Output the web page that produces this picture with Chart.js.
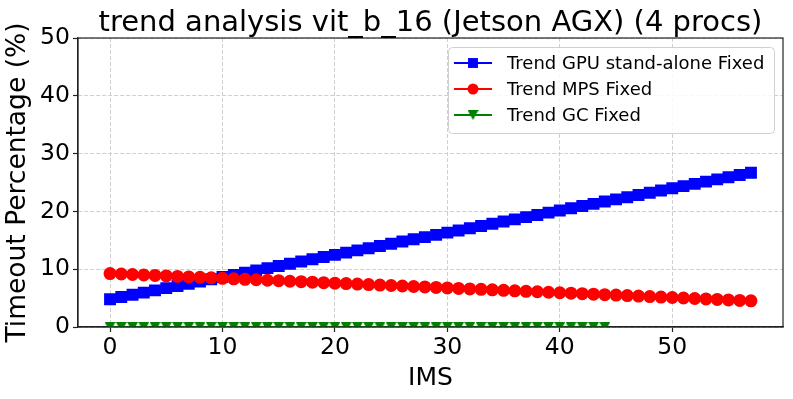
<!DOCTYPE html>
<html>
<head>
<meta charset="utf-8">
<script src="https://cdn.jsdelivr.net/npm/chart.js@4.4.1/dist/chart.umd.min.js"></script>
<style>
  html, body { margin: 0; padding: 0; background: #fff; }
  canvas { display: block; }
</style>
</head>
<body>
<canvas id="trendChart" width="793" height="399"></canvas>
<script>
// values, one per IMS step (0, 1, 2, ...)
const gpuStandAlone = [
  4.80, 5.18, 5.57, 5.95, 6.34, 6.72, 7.10, 7.49, 7.87, 8.26,
  8.64, 9.02, 9.41, 9.79, 10.18, 10.56, 10.94, 11.33, 11.71, 12.10,
  12.48, 12.86, 13.25, 13.63, 14.02, 14.40, 14.78, 15.17, 15.55, 15.94,
  16.32, 16.70, 17.09, 17.47, 17.86, 18.24, 18.62, 19.01, 19.39, 19.78,
  20.16, 20.54, 20.93, 21.31, 21.70, 22.08, 22.46, 22.85, 23.23, 23.62,
  24.00, 24.38, 24.77, 25.15, 25.54, 25.92, 26.30, 26.69
];
const mpsFixed = [
  9.25, 9.17, 9.08, 9.00, 8.92, 8.84, 8.75, 8.67, 8.59, 8.50,
  8.42, 8.34, 8.25, 8.17, 8.09, 8.01, 7.92, 7.84, 7.76, 7.67,
  7.59, 7.51, 7.42, 7.34, 7.26, 7.18, 7.09, 7.01, 6.93, 6.84,
  6.76, 6.68, 6.59, 6.51, 6.43, 6.35, 6.26, 6.18, 6.10, 6.01,
  5.93, 5.85, 5.76, 5.68, 5.60, 5.52, 5.43, 5.35, 5.27, 5.18,
  5.10, 5.02, 4.93, 4.85, 4.77, 4.69, 4.60, 4.52
];
const gcFixed = [
  0, 0, 0, 0, 0, 0, 0, 0, 0, 0,
  0, 0, 0, 0, 0, 0, 0, 0, 0, 0,
  0, 0, 0, 0, 0, 0, 0, 0, 0, 0,
  0, 0, 0, 0, 0, 0, 0, 0, 0, 0,
  0, 0, 0, 0, 0
];
const seriesNames = ['Trend GPU stand-alone Fixed', 'Trend MPS Fixed', 'Trend GC Fixed'];
const chartTitle = 'trend analysis vit_b_16 (Jetson AGX) (4 procs)';
const xTicks = [0, 10, 20, 30, 40, 50];
const yTicks = [0, 10, 20, 30, 40, 50];

const FONT = "'DejaVu Sans', sans-serif";

function toPoints(values) {
  return values.map((v, i) => ({ x: i, y: v }));
}

// matplotlib style 'v' marker (wider and taller than chart.js triangle)
const triDown = document.createElement('canvas');
triDown.width = 11;
triDown.height = 10;
(function () {
  const c = triDown.getContext('2d');
  c.fillStyle = '#008000';
  c.beginPath();
  c.moveTo(0, 0);
  c.lineTo(11, 0);
  c.lineTo(5.5, 10);
  c.closePath();
  c.fill();
})();

// title centred over the axes, plus top + right spines
const frameBox = {
  id: 'frameBox',
  afterDatasetsDraw(chart) {
    const { ctx, chartArea: a } = chart;
    ctx.save();
    ctx.strokeStyle = '#222';
    ctx.lineWidth = 1.2;
    ctx.strokeRect(a.left, a.top, a.right - a.left, a.bottom - a.top);
    ctx.fillStyle = '#000';
    ctx.font = '29px ' + FONT;
    ctx.textAlign = 'center';
    ctx.textBaseline = 'alphabetic';
    ctx.fillText(chartTitle, (a.left + a.right) / 2, a.top - 7);
    ctx.restore();
  }
};

function marker(ctx, style, x, y, r) {
  if (style instanceof HTMLCanvasElement) {
    ctx.drawImage(style, x - style.width / 2, y - style.height / 2);
    return;
  }
  ctx.beginPath();
  if (style === 'rect') {
    const s = r * Math.SQRT1_2;
    ctx.rect(x - s, y - s, 2 * s, 2 * s);
  } else {
    ctx.arc(x, y, r, 0, Math.PI * 2);
  }
  ctx.fill();
}

// legend box in upper right of the plot, like matplotlib
const boxLegend = {
  id: 'boxLegend',
  afterDraw(chart) {
    const { ctx, chartArea: a } = chart;
    const w = 326, h = 86;
    const x0 = a.right - 9 - w, y0 = a.top + 9;
    ctx.save();
    ctx.fillStyle = 'rgba(255,255,255,0.85)';
    ctx.strokeStyle = '#d0d0d0';
    ctx.lineWidth = 1;
    ctx.beginPath();
    ctx.roundRect(x0 + 0.5, y0 + 0.5, w, h, 4);
    ctx.fill();
    ctx.stroke();
    ctx.font = '18px ' + FONT;
    ctx.textBaseline = 'middle';
    chart.data.datasets.forEach((ds, i) => {
      const cy = y0 + 16 + i * 26;
      ctx.strokeStyle = ds.borderColor;
      ctx.fillStyle = ds.borderColor;
      ctx.lineWidth = 2;
      ctx.beginPath();
      ctx.moveTo(x0 + 6, cy);
      ctx.lineTo(x0 + 44, cy);
      ctx.stroke();
      marker(ctx, ds.pointStyle, x0 + 25, cy, ds.pointRadius);
      ctx.fillStyle = '#000';
      ctx.fillText(ds.label, x0 + 59, cy + 1);
    });
    ctx.restore();
  }
};

new Chart(document.getElementById('trendChart').getContext('2d'), {
  type: 'line',
  data: {
    datasets: [{
      label: seriesNames[0],
      data: toPoints(gpuStandAlone),
      borderColor: '#0000ff',
      backgroundColor: '#0000ff',
      borderWidth: 2,
      pointStyle: 'rect',
      pointRadius: 7,
      order: 3,
      clip: 0
    }, {
      label: seriesNames[1],
      data: toPoints(mpsFixed),
      borderColor: '#ff0000',
      backgroundColor: '#ff0000',
      borderWidth: 2,
      pointStyle: 'circle',
      pointRadius: 5.5,
      order: 2,
      clip: 0
    }, {
      label: seriesNames[2],
      data: toPoints(gcFixed),
      borderColor: '#008000',
      backgroundColor: '#008000',
      borderWidth: 2,
      pointStyle: triDown,
      pointRadius: 6,
      order: 1,
      clip: 0
    }]
  },
  options: {
    responsive: false,
    animation: false,
    layout: { padding: { left: 0, right: 10, top: 38, bottom: 0 } },
    elements: {
      point: { borderWidth: 0 },
      line: { tension: 0 }
    },
    plugins: {
      legend: { display: false },
      tooltip: { enabled: false },
      title: { display: false }
    },
    scales: {
      x: {
        type: 'linear',
        min: -2.85,
        max: 59.85,
        afterBuildTicks: s => { s.ticks = xTicks.map(v => ({ value: v })); },
        afterFit: s => { s.height = 72; },
        ticks: {
          color: '#000',
          font: { family: FONT, size: 23.5 },
          padding: 2,
          maxRotation: 0
        },
        grid: {
          color: '#cfcfcf',
          tickColor: '#222',
          tickBorderDash: [],
          tickLength: 5,
          tickWidth: 1.2
        },
        border: { display: true, color: '#222', width: 1.2, dash: [4, 2] },
        title: {
          display: true,
          text: 'IMS',
          color: '#000',
          font: { family: FONT, size: 25 },
          padding: { top: 0, bottom: 6 }
        }
      },
      y: {
        type: 'linear',
        min: 0,
        max: 50,
        afterBuildTicks: s => { s.ticks = yTicks.map(v => ({ value: v })); },
        afterFit: s => { s.width = 78; },
        ticks: {
          color: '#000',
          font: { family: FONT, size: 23.5 },
          padding: 3
        },
        grid: {
          color: '#cfcfcf',
          tickColor: '#222',
          tickBorderDash: [],
          tickLength: 5,
          tickWidth: 1.2
        },
        border: { display: true, color: '#222', width: 1.2, dash: [4, 2] },
        title: {
          display: true,
          text: 'Timeout Percentage (%)',
          color: '#000',
          font: { family: FONT, size: 26.5 },
          padding: { top: 2.5, bottom: 0 }
        }
      }
    }
  },
  plugins: [frameBox, boxLegend]
});
</script>
</body>
</html>
